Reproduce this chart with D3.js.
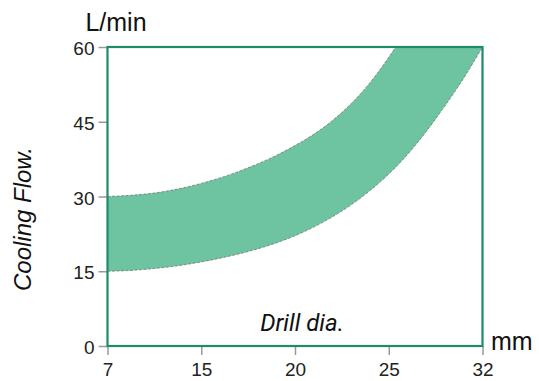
<!DOCTYPE html>
<html>
<head>
<meta charset="utf-8">
<script src="https://cdn.jsdelivr.net/npm/d3@7/dist/d3.min.js"></script>
<style>
  html, body { margin: 0; padding: 0; background: #ffffff; }
  svg { display: block; }
</style>
</head>
<body>
<svg id="chart" width="539" height="381"></svg>
<script>
// ---- data ----
const xTicks = [7, 15, 20, 25, 32];
const yTicks = [0, 15, 30, 45, 60];
// upper bound of the band (reaches 60 L/min at about 25.5 mm)
const diaMax  = [7, 9, 11, 13, 15, 16, 17, 18, 19, 20, 21, 22, 23, 24, 25, 25.52];
const flowMax = [30, 30.24, 30.7, 31.51, 32.63, 33.73, 35.04, 36.54, 38.25, 40.22, 42.49, 45.25, 48.65, 52.84, 57.93, 60];
// lower bound of the band
const diaMin  = [7, 9, 11, 13, 15, 16, 17, 18, 19, 20, 21, 22, 23, 24, 25, 26, 27, 28, 29, 30, 31, 32];
const flowMin = [15, 15.17, 15.55, 16.11, 16.88, 17.62, 18.48, 19.49, 20.69, 22.13, 23.86, 25.93, 28.33, 31.18, 34.5, 37.24, 40.33, 43.75, 47.46, 51.3, 55.5, 60];
const yUnit = "L/min";
const xUnit = "mm";
const yTitle = "Cooling Flow.";
const xTitle = "Drill dia.";

// ---- layout ----
const svg = d3.select("#chart");
const M = { left: 107.5, right: 482.5, top: 47, bottom: 346 };

const x = d3.scaleLinear()
  .domain(xTicks)
  .range(xTicks.map((d, i) => M.left + i * (M.right - M.left) / (xTicks.length - 1)));
const y = d3.scaleLinear().domain([0, 60]).range([M.bottom, M.top]);

const yMaxVal = y.domain()[1];
const lowRows = diaMin.map((d, i) => ({ x: d, v: flowMin[i] }));
const upRows  = diaMax.map((d, i) => ({ x: d, v: flowMax[i] }));

// green region: from the lower bound up to the top of the scale
svg.append("path")
  .datum(lowRows)
  .attr("d", d3.area().x(d => x(d.x)).y0(d => y(d.v)).y1(() => y(yMaxVal)).curve(d3.curveMonotoneX))
  .attr("fill", "#6ec3a0");

// clear region above the upper bound
svg.append("path")
  .datum(upRows)
  .attr("d", d3.area().x(d => x(d.x)).y0(d => y(d.v)).y1(() => y(yMaxVal) - 2).curve(d3.curveMonotoneX))
  .attr("fill", "#ffffff");

// thin outlines of the band edges
[lowRows, upRows].forEach(rows => {
  svg.append("path")
    .datum(rows)
    .attr("d", d3.line().x(d => x(d.x)).y(d => y(d.v)).curve(d3.curveMonotoneX))
    .attr("fill", "none")
    .attr("stroke", "#5f6b66")
    .attr("stroke-width", 0.8)
    .attr("stroke-dasharray", "3,1.5")
    .attr("opacity", 0.85);
});

// axes
const yAxis = d3.axisLeft(y).tickValues(yTicks).tickSize(9).tickPadding(4);
const gy = svg.append("g").attr("transform", `translate(${M.left},0)`).call(yAxis);
gy.select(".domain").remove();
gy.selectAll(".tick line").attr("stroke", "#9a9a9a").attr("stroke-width", 1.5);
gy.selectAll(".tick text")
  .attr("font-family", "'Liberation Sans', Arial, sans-serif")
  .attr("font-size", 19)
  .attr("fill", "#222")
  .attr("dy", "0.4em");

const xAxis = d3.axisBottom(x).tickValues(xTicks).tickFormat(d3.format("d")).tickSize(9).tickPadding(8);
const gx = svg.append("g").attr("transform", `translate(0,${M.bottom})`).call(xAxis);
gx.select(".domain").remove();
gx.selectAll(".tick line").attr("stroke", "#9a9a9a").attr("stroke-width", 1.5);
gx.selectAll(".tick text")
  .attr("font-family", "'Liberation Sans', Arial, sans-serif")
  .attr("font-size", 19)
  .attr("fill", "#222");

// frame
svg.append("rect")
  .attr("x", M.left).attr("y", M.top)
  .attr("width", M.right - M.left).attr("height", M.bottom - M.top)
  .attr("fill", "none")
  .attr("stroke", "#1f8a6c")
  .attr("stroke-width", 2.2);

// unit labels
svg.append("text")
  .attr("x", 116).attr("y", 31)
  .attr("text-anchor", "middle")
  .attr("font-family", "'Liberation Sans', Arial, sans-serif")
  .attr("font-size", 25)
  .attr("fill", "#111")
  .text(yUnit);

svg.append("text")
  .attr("x", 491).attr("y", 350)
  .attr("font-family", "'Liberation Sans', Arial, sans-serif")
  .attr("font-size", 25)
  .attr("fill", "#111")
  .text(xUnit);

// titles
svg.append("text")
  .attr("transform", "translate(31,219) rotate(-90)")
  .attr("text-anchor", "middle")
  .attr("font-family", "'Liberation Sans', Arial, sans-serif")
  .attr("font-style", "italic")
  .attr("font-size", 24)
  .attr("fill", "#111")
  .text(yTitle);

svg.append("text")
  .attr("x", 302).attr("y", 331)
  .attr("text-anchor", "middle")
  .attr("font-family", "Roboto, 'Noto Sans', sans-serif")
  .attr("font-style", "italic")
  .attr("font-size", 24)
  .attr("fill", "#111")
  .text(xTitle);
</script>
</body>
</html>
